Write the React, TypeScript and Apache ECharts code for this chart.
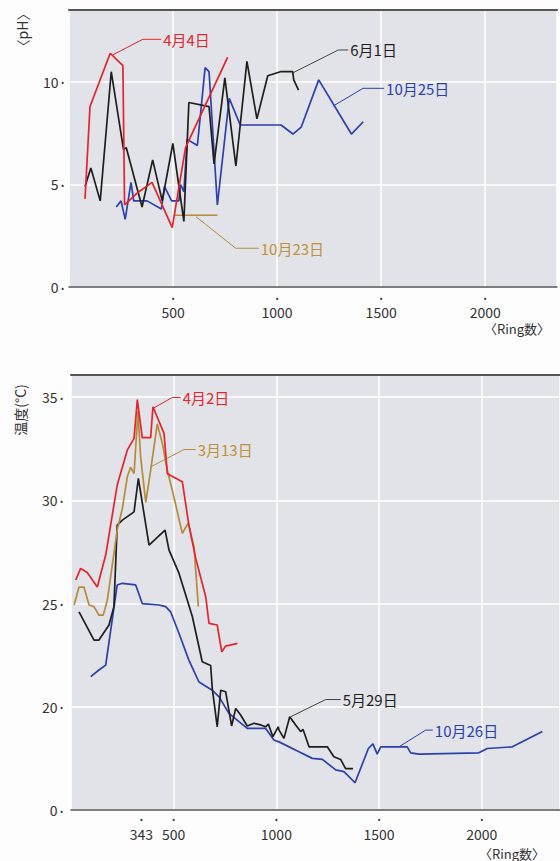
import React, { useEffect, useRef } from "react";
import * as echarts from "echarts";

// ---- pH chart (top) ----
const ph0404: number[][] = [[77, 4.3], [101, 8.8], [198, 11.4], [259, 10.8], [267, 4.0], [330, 4.6], [399, 5.1], [496, 2.9], [560, 6.8], [762, 11.2]];
const ph0601: number[][] = [[77, 4.9], [105, 5.8], [150, 4.2], [203, 10.5], [262, 6.7], [275, 6.8], [351, 3.9], [402, 6.2], [448, 4.2], [499, 7.0], [552, 3.2], [576, 9.0], [673, 8.8], [697, 6.0], [749, 10.2], [802, 5.9], [855, 11.0], [903, 8.2], [955, 10.3], [1016, 10.5], [1058, 10.5], [1075, 10.5], [1080, 10.1], [1103, 9.6]];
const ph1025: number[][] = [[227, 3.9], [250, 4.2], [270, 3.3], [298, 5.1], [311, 4.2], [375, 4.2], [444, 3.8], [459, 4.9], [493, 4.2], [528, 4.2], [536, 5.0], [552, 4.65], [568, 7.2], [617, 6.9], [654, 10.7], [673, 10.5], [713, 4.0], [770, 9.2], [823, 7.9], [1019, 7.9], [1076, 7.46], [1116, 7.8], [1200, 10.1], [1357, 7.46], [1414, 8.06]];
const ph1023: number[][] = [[504, 3.5], [713, 3.5]];

const phLeader0404: number[][] = [[210, 11.32], [355, 12.08], [443, 12.08]];
const phLeader0601: number[][] = [[1071, 10.42], [1294, 11.56], [1342, 11.56]];
const phLeader1025: number[][] = [[1270, 8.83], [1413, 9.69], [1514, 9.69]];
const phLeader1023: number[][] = [[610, 3.43], [801, 1.89], [912, 1.89]];

// ---- temperature chart (bottom) ----
const t0402: number[][] = [[23, 26.14], [47, 26.7], [79, 26.5], [128, 25.8], [169, 27.35], [225, 30.74], [274, 32.43], [307, 33.0], [323, 34.88], [347, 33.04], [388, 33.04], [399, 34.53], [453, 33.24], [469, 31.3], [485, 31.2], [542, 30.9], [574, 28.8], [607, 27.2], [656, 25.33], [672, 24.04], [712, 23.96], [734, 22.66], [753, 22.94], [810, 23.07]];
const t0313: number[][] = [[15, 24.93], [39, 25.8], [63, 25.8], [88, 24.93], [112, 24.85], [136, 24.44], [157, 24.44], [177, 25.17], [225, 28.56], [250, 29.6], [274, 31.14], [290, 31.6], [307, 31.3], [326, 34.3], [339, 32.1], [364, 29.9], [388, 31.46], [420, 33.7], [445, 32.75], [469, 31.46], [493, 30.5], [542, 28.4], [571, 28.9], [599, 27.75], [620, 24.85]];
const t0529: number[][] = [[39, 24.6], [112, 23.23], [136, 23.23], [185, 23.96], [209, 24.85], [225, 28.8], [250, 29.04], [307, 29.44], [328, 31.06], [380, 27.83], [458, 28.56], [477, 27.6], [526, 26.46], [566, 25.17], [591, 24.36], [639, 22.18], [680, 22.0], [688, 20.88], [712, 19.03], [729, 20.8], [753, 20.73], [782, 19.07], [802, 19.92], [826, 19.6], [858, 19.07], [891, 19.2], [924, 19.12], [948, 19.03], [961, 19.16], [983, 18.55], [1009, 19.03], [1013, 18.87], [1037, 18.47], [1065, 19.52], [1094, 19.12], [1118, 18.8], [1130, 18.9], [1159, 18.06], [1248, 18.06], [1280, 17.58], [1313, 17.45], [1337, 17.0], [1373, 17.0]];
const t1026: number[][] = [[96, 21.46], [136, 21.78], [169, 22.02], [225, 25.9], [250, 25.98], [315, 25.9], [347, 25.0], [428, 24.93], [461, 24.85], [485, 24.6], [526, 23.55], [574, 22.26], [623, 21.2], [688, 20.8], [721, 20.48], [769, 19.68], [818, 19.28], [858, 18.95], [948, 18.95], [988, 18.39], [1013, 18.3], [1110, 17.82], [1175, 17.5], [1224, 17.45], [1289, 16.94], [1329, 16.86], [1383, 16.32], [1448, 17.98], [1470, 18.2], [1491, 17.71], [1508, 18.06], [1637, 18.06], [1654, 17.77], [1694, 17.71], [1986, 17.77], [2027, 17.98], [2149, 18.06], [2295, 18.8]];

const tLeader0402: number[][] = [[404, 34.48], [493, 34.98], [534, 34.98]];
const tLeader0313: number[][] = [[388, 31.62], [550, 32.46], [607, 32.46]];
const tLeader0529: number[][] = [[1070, 19.52], [1240, 20.35], [1313, 20.35]];
const tLeader1026: number[][] = [[1597, 18.06], [1727, 18.87], [1762, 18.87]];

const phXTicks = [500, 1000, 1500, 2000];
const tXTicks = [343, 500, 1000, 1500, 2000];
const tBreakMin = 15; // axis break: the bottom line is labelled 0

const RED = "#e5232b";
const BLACK = "#1e1e1e";
const BLUE = "#2b3fae";
const GOLD = "#b48a3c";
const GOLD_TEXT = "#c0913a";
const FONT = '"Noto Sans CJK JP", "Noto Sans", sans-serif';

function dataLine(name: string, data: number[][], color: string, xi: number, yi: number) {
  return {
    name, type: "line", data, xAxisIndex: xi, yAxisIndex: yi, symbol: "none",
    lineStyle: { color, width: 1.7 }, z: 3, silent: true,
  };
}
function leader(text: string, data: number[][], color: string, textColor: string, xi: number, yi: number) {
  return {
    name: text, type: "line", data, xAxisIndex: xi, yAxisIndex: yi, symbol: "none",
    lineStyle: { color, width: 1 }, z: 2, silent: true,
    endLabel: { show: true, formatter: () => text, color: textColor, fontSize: 15, distance: 2, fontFamily: FONT },
  };
}

export default function App() {
  const ref = useRef<HTMLDivElement>(null);
  useEffect(() => {
    if (!ref.current) return;
    const chart = echarts.init(ref.current, undefined, { renderer: "svg" });
    const xLabelRich = {
      d: { fontSize: 8, lineHeight: 12, color: "#333" },
      n: { fontSize: 14, lineHeight: 18, color: "#333", fontFamily: FONT },
    };
    const yLabelRich = {
      n: { fontSize: 14, color: "#333", fontFamily: FONT },
      d: { fontSize: 8, color: "#333" },
    };
    const baseX = (gi: number, max: number) => ({
      gridIndex: gi, type: "value", min: 0, max, interval: 500,
      axisLine: { show: true, onZero: false, lineStyle: { color: "#555", width: 1.5 } },
      axisTick: { show: false },
      splitLine: { show: true, lineStyle: { color: "#ffffff", width: 1.5 } },
    });
    const borderX = (gi: number, max: number) => ({
      gridIndex: gi, type: "value", min: 0, max, position: "top",
      axisLine: { show: true, onZero: false, lineStyle: { color: "#555", width: 2 } },
      axisTick: { show: false }, axisLabel: { show: false }, splitLine: { show: false },
    });
    const option: any = {
      animation: false,
      backgroundColor: "#fdfdfd",
      textStyle: { fontFamily: FONT },
      grid: [
        { left: 69, top: 10, right: 0, height: 277, show: true, backgroundColor: "#e2e3e8", borderWidth: 0 },
        { left: 71, top: 375, right: 0, height: 435, show: true, backgroundColor: "#e2e3e8", borderWidth: 0 },
      ],
      xAxis: [
        {
          ...baseX(0, 2345),
          axisLabel: {
            margin: 4,
            formatter: (v: number) => (phXTicks.includes(v) ? `{d|•}\n{n|${v}}` : ""),
            rich: xLabelRich,
          },
        },
        borderX(0, 2345),
        {
          ...baseX(1, 2381),
          axisLabel: {
            margin: 2,
            customValues: tXTicks,
            formatter: (v: number) => `{d|•}\n{n|${v}}`,
            rich: { d: xLabelRich.d, n: { ...xLabelRich.n, lineHeight: 20 } },
          },
        },
        borderX(1, 2381),
      ],
      yAxis: [
        {
          gridIndex: 0, type: "value", min: 0, max: 13.51, interval: 5,
          axisLine: { show: false }, axisTick: { show: false },
          splitLine: { show: true, lineStyle: { color: "#ffffff", width: 1.5 } },
          axisLabel: {
            margin: 5,
            formatter: (v: number) => (v % 5 === 0 ? `{n|${v}} {d|•}` : ""),
            rich: yLabelRich,
          },
        },
        {
          gridIndex: 1, type: "value", min: tBreakMin, max: 36.07, interval: 5,
          axisLine: { show: false }, axisTick: { show: false },
          splitLine: { show: true, lineStyle: { color: "#ffffff", width: 1.5 } },
          axisLabel: {
            margin: 8,
            formatter: (v: number) => (v % 5 === 0 ? `{n|${v === tBreakMin ? 0 : v}} {d|•}` : ""),
            rich: yLabelRich,
          },
        },
      ],
      graphic: [
        { type: "text", x: 22, y: 30, rotation: Math.PI / 2, style: { text: "〈pH〉", fill: "#333", fontSize: 14, fontFamily: FONT, textAlign: "center", textVerticalAlign: "middle" } },
        { type: "text", x: 20, y: 410, rotation: Math.PI / 2, style: { text: "温度(°C)", fill: "#333", fontSize: 14, fontFamily: FONT, textAlign: "center", textVerticalAlign: "middle" } },
        { type: "text", x: 517, y: 328, style: { text: "〈Ring数〉", fill: "#333", fontSize: 13, fontFamily: FONT, textAlign: "center", textVerticalAlign: "middle" } },
        { type: "text", x: 512, y: 853, style: { text: "〈Ring数〉", fill: "#333", fontSize: 13, fontFamily: FONT, textAlign: "center", textVerticalAlign: "middle" } },
      ],
      series: [
        dataLine("10月23日", ph1023, GOLD, 0, 0),
        dataLine("10月25日", ph1025, BLUE, 0, 0),
        dataLine("6月1日", ph0601, BLACK, 0, 0),
        dataLine("4月4日", ph0404, RED, 0, 0),
        leader("4月4日", phLeader0404, RED, RED, 0, 0),
        leader("6月1日", phLeader0601, "#444", BLACK, 0, 0),
        leader("10月25日", phLeader1025, BLUE, BLUE, 0, 0),
        leader("10月23日", phLeader1023, GOLD, GOLD_TEXT, 0, 0),
        dataLine("10月26日", t1026, BLUE, 2, 1),
        dataLine("5月29日", t0529, BLACK, 2, 1),
        dataLine("3月13日", t0313, GOLD, 2, 1),
        dataLine("4月2日", t0402, RED, 2, 1),
        leader("4月2日", tLeader0402, RED, RED, 2, 1),
        leader("3月13日", tLeader0313, GOLD, GOLD_TEXT, 2, 1),
        leader("5月29日", tLeader0529, "#444", BLACK, 2, 1),
        leader("10月26日", tLeader1026, BLUE, BLUE, 2, 1),
      ],
    };
    chart.setOption(option);
    return () => chart.dispose();
  }, []);
  return (
    <div
      ref={ref}
      style={{ position: "absolute", left: 0, top: 0, width: 560, height: 861 }}
    />
  );
}
